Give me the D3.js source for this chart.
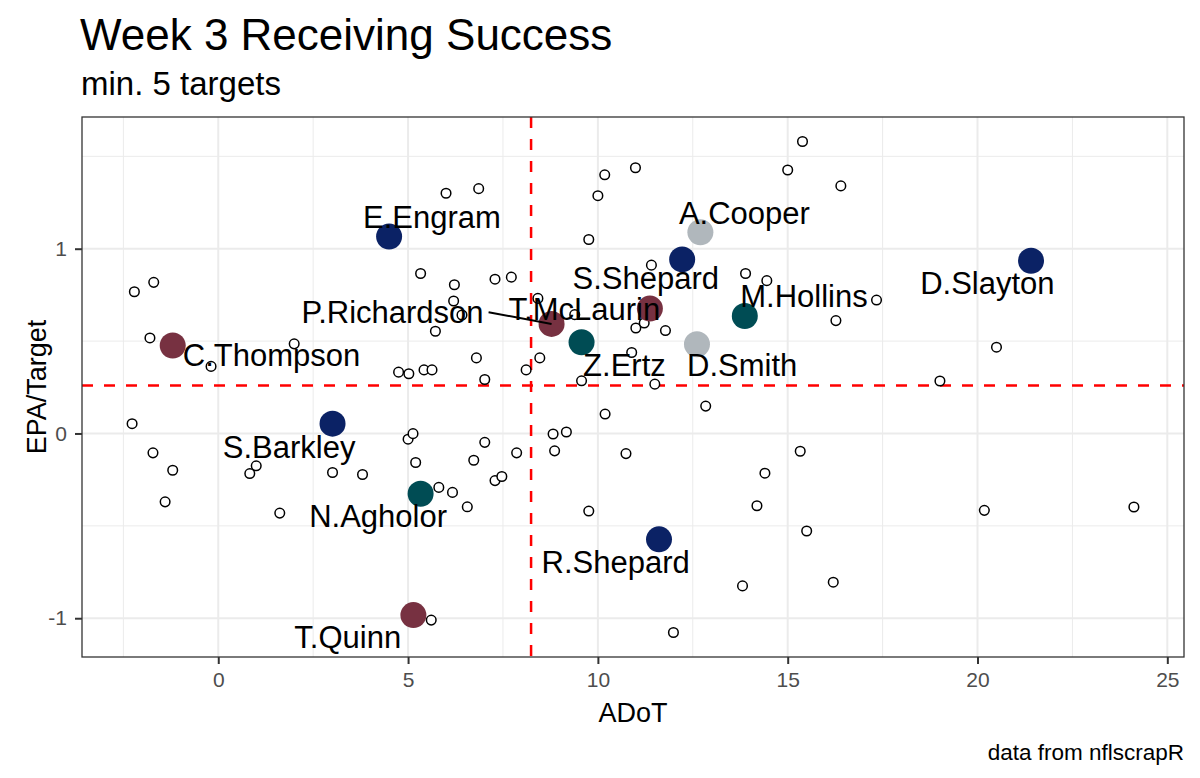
<!DOCTYPE html>
<html>
<head>
<meta charset="utf-8">
<script src="https://cdn.jsdelivr.net/npm/d3@7"></script>
<style>
  html, body { margin: 0; padding: 0; background: #fff; }
  svg { display: block; font-family: "Liberation Sans", Arial, Helvetica, sans-serif; }
</style>
</head>
<body>
<svg id="chart" width="1200" height="778"></svg>
<script>
// ---------------- DATA ----------------
// all other receivers (min. 5 targets): ADoT, EPA/Target
const otherAdot = [-2.27,-2.21,-1.70,-1.80,-1.72,-1.20,-1.40,-0.19,0.83,1.00,1.62,2.00,3.01,3.80,4.75,5.02,5.00,5.13,5.20,5.33,5.42,5.63,5.61,5.72,5.81,6.00,6.17,6.20,6.22,6.42,6.56,6.73,6.80,6.86,7.02,7.02,7.29,7.29,7.47,7.72,7.86,8.11,8.42,8.47,8.82,8.86,9.17,9.39,9.57,9.76,9.76,10.00,10.18,10.19,10.74,10.89,10.99,11.00,11.22,11.41,11.50,11.78,11.99,12.84,13.81,13.89,14.19,14.40,14.45,15.00,15.33,15.39,15.50,16.20,16.27,16.40,17.34,19.01,20.18,20.50,24.12];
const otherEpa  = [0.053,0.767,0.818,0.517,-0.105,-0.199,-0.370,0.363,-0.217,-0.175,-0.431,0.485,-0.211,-0.222,0.332,0.323,-0.031,-0.001,-0.157,0.866,0.344,0.344,-1.010,0.553,-0.292,1.300,-0.319,0.717,0.805,0.641,-0.397,-0.145,0.409,1.325,0.292,-0.048,0.835,-0.255,-0.233,0.846,-0.105,0.344,0.731,0.409,-0.003,-0.094,0.008,0.643,0.285,1.050,-0.420,1.287,1.400,0.105,-0.109,0.438,1.438,0.571,0.598,0.911,0.267,0.557,-1.077,0.148,-0.825,0.866,-0.391,-0.215,0.827,1.426,-0.096,1.580,-0.528,-0.805,0.611,1.340,0.722,0.284,-0.416,0.467,-0.398];

// highlighted receivers
const players    = ["E.Engram","S.Shepard","D.Slayton","S.Barkley","R.Shepard","C.Thompson","P.Richardson","T.McLaurin","T.Quinn","M.Hollins","Z.Ertz","N.Agholor","A.Cooper","D.Smith"];
const playerAdot = [4.50,12.22,21.41,3.01,11.61,-1.20,8.78,11.37,5.14,13.87,9.57,5.33,12.70,12.61];
const playerEpa  = [1.066,0.942,0.935,0.053,-0.573,0.476,0.593,0.676,-0.983,0.636,0.494,-0.326,1.089,0.483];
const playerTeam = ["NYG","NYG","NYG","NYG","NYG","WAS","WAS","WAS","WAS","PHI","PHI","PHI","DAL","DAL"];

// team colours
const teams      = ["NYG","WAS","PHI","DAL"];
const teamColors = ["#0B2265","#773141","#004C54","#B0B7BC"];

// repelled label anchors (data units, label centre)
const labelAdot = [5.63,11.26,20.26,1.865,10.47,1.405,4.59,9.645,3.41,15.43,10.70,4.21,13.86,13.80];
const labelEpa  = [1.173,0.842,0.813,-0.071,-0.695,0.426,0.656,0.672,-1.103,0.744,0.371,-0.444,1.195,0.371];
const segmentPlayers = ["P.Richardson"];

// league averages (reference lines)
const meanAdot = 8.24;
const meanEpa  = 0.26;

// axis ticks
const xTicks = [0,5,10,15,20,25];
const xMinor = [-2.5,2.5,7.5,12.5,17.5,22.5];
const yTicks = [-1,0,1];
const yMinor = [-0.5,0.5,1.5];

const titleText = "Week 3 Receiving Success";
const subtitleText = "min. 5 targets";
const xLabel = "ADoT";
const yLabel = "EPA/Target";
const captionText = "data from nflscrapR";

// ---------------- LAYOUT ----------------
const panel = {left: 82, right: 1184, top: 117, bottom: 657};
const svg = d3.select("#chart");

const allX = otherAdot.concat(playerAdot);
const allY = otherEpa.concat(playerEpa);
function expand(ext) { const r = ext[1] - ext[0]; return [ext[0] - 0.05 * r, ext[1] + 0.05 * r]; }

const x = d3.scaleLinear().domain(expand(d3.extent(allX))).range([panel.left, panel.right]);
const y = d3.scaleLinear().domain(expand(d3.extent(allY))).range([panel.bottom, panel.top]);
const color = d3.scaleOrdinal().domain(teams).range(teamColors);

// panel background
svg.append("rect").attr("x", panel.left).attr("y", panel.top)
  .attr("width", panel.right - panel.left).attr("height", panel.bottom - panel.top)
  .attr("fill", "#fff");

const grid = svg.append("g");
grid.selectAll(".vminor").data(xMinor).join("line")
  .attr("x1", d => x(d)).attr("x2", d => x(d)).attr("y1", panel.top).attr("y2", panel.bottom)
  .attr("stroke", "#EBEBEB").attr("stroke-width", 1);
grid.selectAll(".hminor").data(yMinor).join("line")
  .attr("y1", d => y(d)).attr("y2", d => y(d)).attr("x1", panel.left).attr("x2", panel.right)
  .attr("stroke", "#EBEBEB").attr("stroke-width", 1);
grid.selectAll(".vmajor").data(xTicks).join("line")
  .attr("x1", d => x(d)).attr("x2", d => x(d)).attr("y1", panel.top).attr("y2", panel.bottom)
  .attr("stroke", "#EBEBEB").attr("stroke-width", 2);
grid.selectAll(".hmajor").data(yTicks).join("line")
  .attr("y1", d => y(d)).attr("y2", d => y(d)).attr("x1", panel.left).attr("x2", panel.right)
  .attr("stroke", "#EBEBEB").attr("stroke-width", 2);

// reference lines
svg.append("line")
  .attr("x1", x(meanAdot)).attr("x2", x(meanAdot)).attr("y1", panel.top).attr("y2", panel.bottom)
  .attr("stroke", "#FF0000").attr("stroke-width", 2.5).attr("stroke-dasharray", "11,11");
svg.append("line")
  .attr("y1", y(meanEpa)).attr("y2", y(meanEpa)).attr("x1", panel.left).attr("x2", panel.right)
  .attr("stroke", "#FF0000").attr("stroke-width", 2.5).attr("stroke-dasharray", "11,11");

// other points
svg.append("g").selectAll("circle").data(otherAdot.map((d, i) => ({x: d, y: otherEpa[i]}))).join("circle")
  .attr("cx", d => x(d.x)).attr("cy", d => y(d.y)).attr("r", 4.8)
  .attr("fill", "#fff").attr("stroke", "#000").attr("stroke-width", 1.5);

// highlighted points
const hl = players.map((p, i) => ({name: p, x: playerAdot[i], y: playerEpa[i], team: playerTeam[i], lx: labelAdot[i], ly: labelEpa[i]}));
svg.append("g").selectAll("circle").data(hl).join("circle")
  .attr("cx", d => x(d.x)).attr("cy", d => y(d.y)).attr("r", 13)
  .attr("fill", d => color(d.team));

// labels
const labG = svg.append("g");
const labels = labG.selectAll("text").data(hl).join("text")
  .attr("x", d => x(d.lx)).attr("y", d => y(d.ly)).attr("dy", "0.358em")
  .attr("text-anchor", "middle").attr("font-size", 31).attr("fill", "#000")
  .text(d => d.name);

// segments for repelled labels far from their points
labels.filter(d => segmentPlayers.includes(d.name)).each(function(d) {
  const w = this.getComputedTextLength();
  const sx = x(d.lx) + w / 2 + 5;
  const sy = y(d.ly);
  labG.append("line").attr("x1", sx).attr("y1", sy).attr("x2", x(d.x)).attr("y2", y(d.y))
    .attr("stroke", "#000").attr("stroke-width", 2);
});

// panel border
svg.append("rect").attr("x", panel.left).attr("y", panel.top)
  .attr("width", panel.right - panel.left).attr("height", panel.bottom - panel.top)
  .attr("fill", "none").attr("stroke", "#333333").attr("stroke-width", 1.3);

// axes
const xAxis = svg.append("g").attr("transform", `translate(0,${panel.bottom})`)
  .call(d3.axisBottom(x).tickValues(xTicks).tickSize(7).tickPadding(8).tickFormat(d3.format("d")));
const yAxis = svg.append("g").attr("transform", `translate(${panel.left},0)`)
  .call(d3.axisLeft(y).tickValues(yTicks).tickSize(7).tickPadding(8).tickFormat(d => d < 0 ? "-" + Math.abs(d) : d));
[xAxis, yAxis].forEach(a => {
  a.select(".domain").remove();
  a.selectAll(".tick line").attr("stroke", "#333333").attr("stroke-width", 2);
  a.selectAll(".tick text").attr("fill", "#4D4D4D").attr("font-size", 21)
    .attr("font-family", "'Liberation Sans', Arial, Helvetica, sans-serif");
});

// titles
svg.append("text").attr("x", 80).attr("y", 50).attr("font-size", 44).attr("fill", "#000").text(titleText);
svg.append("text").attr("x", 81).attr("y", 95).attr("font-size", 33).attr("fill", "#000").text(subtitleText);
svg.append("text").attr("x", (panel.left + panel.right) / 2).attr("y", 722)
  .attr("text-anchor", "middle").attr("font-size", 27).attr("fill", "#000").text(xLabel);
svg.append("text").attr("transform", `translate(46,${(panel.top + panel.bottom) / 2}) rotate(-90)`)
  .attr("text-anchor", "middle").attr("font-size", 27).attr("fill", "#000").text(yLabel);
svg.append("text").attr("x", panel.right).attr("y", 760)
  .attr("text-anchor", "end").attr("font-size", 22.5).attr("fill", "#000").text(captionText);
</script>
</body>
</html>
